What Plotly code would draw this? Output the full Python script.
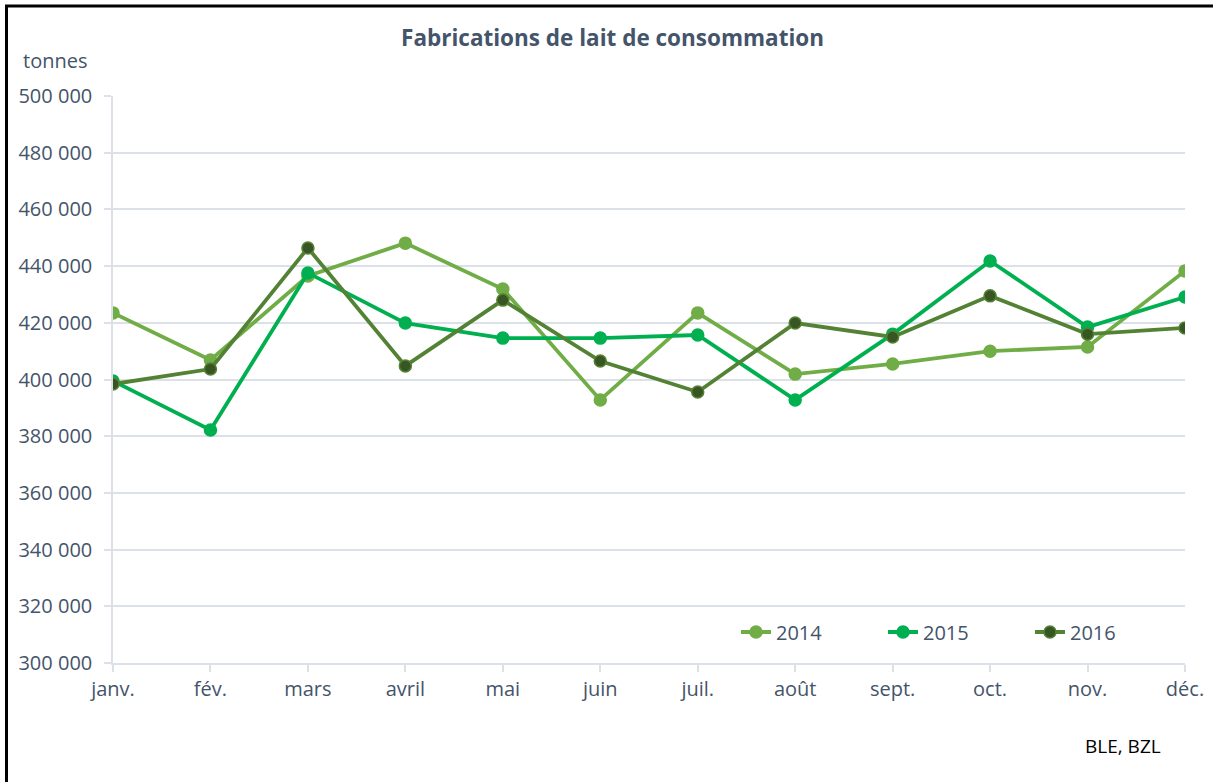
import plotly.graph_objects as go

months = ["janv.", "fév.", "mars", "avril", "mai", "juin", "juil.", "août", "sept.", "oct.", "nov.", "déc."]
y2014 = [423500, 406900, 436500, 448100, 431900, 392800, 423500, 401900, 405500, 410000, 411500, 438300]
y2015 = [399500, 382200, 437600, 419900, 414600, 414600, 415700, 392800, 416000, 441800, 418500, 429100]
y2016 = [398400, 403700, 446400, 404800, 428000, 406500, 395600, 419900, 415000, 429500, 416000, 418200]
y_ticks = [300000, 320000, 340000, 360000, 380000, 400000, 420000, 440000, 460000, 480000, 500000]
y_tick_labels = [f"{v:,}".replace(",", " ") for v in y_ticks]

FONT = "Open Sans"
TXT = "#44546A"
GRID = "#DCE0E8"

W, H = 1213, 782
L, R, T, B = 113, 28, 96, 119
pw, ph = W - L - R, H - T - B

def px_x(p):
    return (p - L) / pw

def px_y(p):
    return 1 - (p - T) / ph

fig = go.Figure()
series = [
    ("2014", y2014, "#70AD47", "#70AD47", "#70AD47"),
    ("2015", y2015, "#00B050", "#00B050", "#00B050"),
    ("2016", y2016, "#548235", "#375623", "#548235"),
]
for name, ys, lc, mc, ml in series:
    fig.add_trace(go.Scatter(
        x=list(range(len(months))), y=ys, name=name, mode="lines+markers",
        line=dict(color=lc, width=3.8),
        marker=dict(size=12, color=mc, line=dict(color=ml, width=1.5)),
    ))

fig.update_layout(
    width=W, height=H,
    margin=dict(l=L, r=R, t=T, b=B, autoexpand=False),
    paper_bgcolor="white", plot_bgcolor="white",
    font=dict(family=FONT, color=TXT, size=20),
    title=dict(text="<b>Fabrications de lait de consommation</b>", x=0.505, xanchor="center",
               y=1 - 38 / H, yanchor="middle", font=dict(size=22.5, color=TXT, family=FONT)),
    xaxis=dict(
        range=[0, 11], tickmode="array", tickvals=list(range(len(months))), ticktext=months,
        showgrid=False, showline=True, linecolor=GRID, linewidth=1.5,
        ticks="outside", ticklen=7, tickcolor=GRID, tickwidth=1.5,
        tickfont=dict(size=20, color=TXT), zeroline=False, automargin=False,
    ),
    yaxis=dict(
        range=[300000, 500000], tickmode="array", tickvals=y_ticks, ticktext=y_tick_labels,
        showgrid=True, gridcolor=GRID, gridwidth=1.5,
        showline=True, linecolor=GRID, linewidth=1.5,
        ticks="outside", ticklen=7, tickcolor=GRID, tickwidth=1.5,
        tickfont=dict(size=20, color=TXT), zeroline=False, ticklabelstandoff=8, automargin=False,
    ),
    legend=dict(orientation="h", x=px_x(736), xanchor="left", y=px_y(632), yanchor="middle",
                font=dict(size=20, color=TXT), bgcolor="rgba(0,0,0,0)",
                entrywidth=102, itemwidth=30),
    showlegend=True,
)

fig.add_annotation(text="tonnes", xref="paper", yref="paper", x=px_x(55), y=px_y(60),
                   xanchor="center", yanchor="middle", showarrow=False,
                   font=dict(size=20, color=TXT, family=FONT))
fig.add_annotation(text="BLE, BZL", xref="paper", yref="paper", x=px_x(1123), y=px_y(746),
                   xanchor="center", yanchor="middle", showarrow=False,
                   font=dict(size=19, color="black", family=FONT))

# figure frame (left and top edges visible)
fig.add_shape(type="rect", xref="paper", yref="paper",
              x0=px_x(6.5), x1=px_x(W + 20), y0=px_y(H + 20), y1=px_y(6),
              line=dict(color="black", width=3), fillcolor="rgba(0,0,0,0)", layer="above")

fig.write_html("out.html", config={"displayModeBar": False},
               post_script="document.body.style.margin='0';document.body.style.overflow='hidden';")
